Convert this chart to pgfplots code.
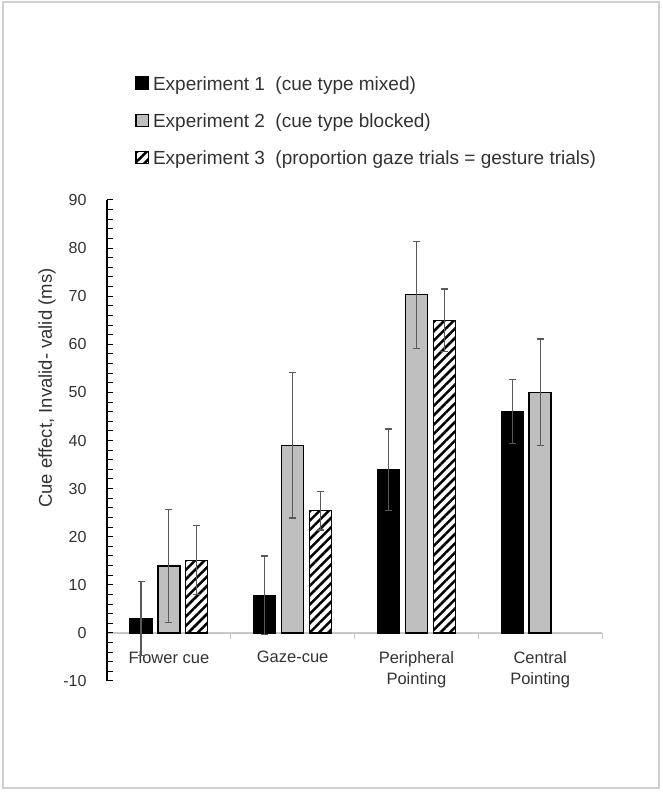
\documentclass[border=0pt]{standalone}
\usepackage{fontspec}
\setmainfont{Liberation Sans}
\usepackage{pgfplots}
\usepackage{pgfplotstable}
\pgfplotsset{compat=1.18}
\usetikzlibrary{patterns.meta}

\definecolor{greybar}{RGB}{191,191,191}
\definecolor{errgrey}{RGB}{89,89,89}
\definecolor{zeroline}{RGB}{200,200,200}
\definecolor{txt}{RGB}{50,50,50}
\definecolor{framegrey}{RGB}{208,208,208}

% cue effect (ms) and error, per experiment; x = cue condition
\pgfplotstableread{
x  y     err
0  3.0   7.7
1  7.8   8.2
2  33.9  8.5
3  46.0  6.7
}\expone
\pgfplotstableread{
x  y     err
0  13.9  11.7
1  39.0  15.1
2  70.3  11.1
3  50.0  11.1
}\exptwo
\pgfplotstableread{
x  y     err
0  15.1  7.2
1  25.4  4.0
2  65.0  6.5
}\expthree

\begin{document}
\begin{tikzpicture}[x=1pt,y=1pt]
\useasboundingbox (0,0) rectangle (662,793);
\draw[framegrey, line width=1.5pt] (3,5) rectangle (659,791);
\begin{axis}[
  at={(107pt,112pt)}, anchor=south west,
  scale only axis, width=495pt, height=481pt,
  xmin=-0.5, xmax=3.5, ymin=-10, ymax=90,
  axis x line=middle, axis y line=left,
  x axis line style={-, draw=zeroline, line width=1.8pt},
  y axis line style={-, black, line width=1.2pt},
  hide obscured x ticks=false,
  xtick={-0.5,0.5,1.5,2.5,3.5},
  x tick label as interval,
  xticklabels={Flower cue, Gaze-cue, {Peripheral\\Pointing}, {Central\\Pointing}},
  xtick align=inside,
  every x tick/.append style={zeroline, line width=1pt},
  xticklabel style={align=center, font=\fontsize{16.5}{21}\selectfont, text=txt, yshift=-9pt},
  ytick={-10,0,...,90},
  ytick align=inside,
  major tick length=6pt,
  every y tick/.append style={black, line width=1pt},
  yticklabel style={font=\fontsize{16}{18}\selectfont, text=txt, xshift=-17pt},
  /pgf/number format/assume math mode=true,
  ylabel={Cue effect, Invalid- valid (ms)},
  every axis y label/.style={at={(axis description cs:-0.121,0.609)}, rotate=90, anchor=center,
    font=\fontsize{18.5}{22}\selectfont, text=txt},
  ybar=5.8pt, bar width=22pt,
  error bars/y dir=both, error bars/y explicit,
  error bars/error bar style={errgrey, line width=1.2pt},
  error bars/error mark options={rotate=90, mark size=3.5pt, errgrey, line width=1.2pt},
  legend cell align=left,
  legend style={at={(axis description cs:0.0566,1.2574)}, anchor=north west,
    draw=none, fill=none, inner sep=0pt, row sep=22pt, column sep=4pt,
    font=\fontsize{19}{22}\selectfont, text=txt, nodes={inner sep=0pt}},
  sqlegend/.style={legend image code/.code={\draw[##1] (0pt,-5pt) rectangle (12.5pt,7pt);}},
]
% tick comb on the value axis, one mark every 2 ms
\pgfplotsinvokeforeach{-10,-8,...,90}{
  \draw[black, line width=1pt] (axis cs:-0.5,#1) -- ++(6pt,0pt);
}
\addplot[fill=black, draw=black, line width=1.3pt, sqlegend]
  table[x=x, y=y, y error=err] {\expone};
\addlegendentry{Experiment 1\ \ (cue type mixed)}
\addplot[fill=greybar, draw=black, line width=1.3pt, sqlegend]
  table[x=x, y=y, y error=err] {\exptwo};
\addlegendentry{Experiment 2\ \ (cue type blocked)}
\addplot[draw=black, line width=1.3pt,
  pattern={Lines[angle=45, distance=6.6pt, line width=2.5pt]}, pattern color=black, sqlegend]
  table[x=x, y=y, y error=err] {\expthree};
\addlegendentry{Experiment 3\ \ (proportion gaze trials = gesture trials)}
\end{axis}
\end{tikzpicture}
\end{document}
